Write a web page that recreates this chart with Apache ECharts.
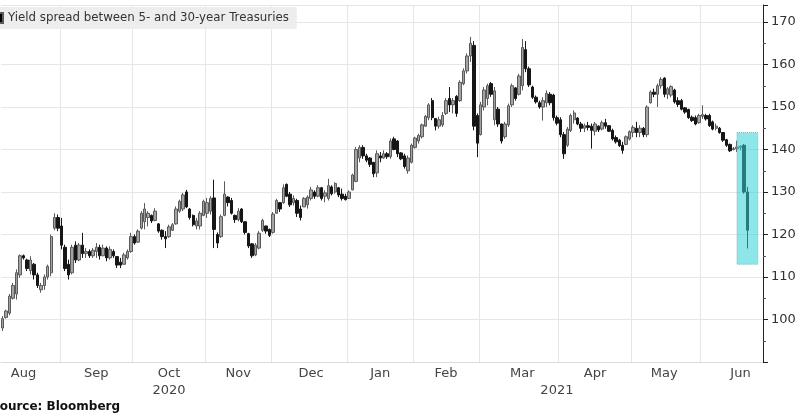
<!DOCTYPE html>
<html>
<head>
<meta charset="utf-8">
<script src="https://cdn.jsdelivr.net/npm/echarts@6/dist/echarts.min.js"></script>
<style>
html,body{margin:0;padding:0;background:#fff;}
#chart{width:800px;height:419px;}
</style>
</head>
<body>
<div id="chart"></div>
<script>
// ---- data ----
var seriesName = 'Yield spread between 5- and 30-year Treasuries';
var sourceText = 'Source: Bloomberg';
var firstDate = '2020-08-07';
var lastDate = '2021-06-24';
var holidays = ['2020-09-07','2020-10-12','2020-11-11','2020-11-26','2020-12-25',
                '2021-01-01','2021-01-18','2021-02-15','2021-04-02','2021-05-31'];

var openVals = [
98,100.5,101.5,105,106,110.5,115,114,111.5,113,110.5,107,108,110,111,121.5,124,122,117,113,
111,117.5,114,117.5,115.5,116,115,116,117,115,116.8,114.5,116,114.8,113.5,113,114.5,116,119.5,118.2,
121.5,123,124,124.5,123.3,122.5,121,119.5,119.5,121,122.5,125.5,126,130,126,124.5,122,122,124.5,125,
125.5,128.6,120,119.5,124.5,128.8,128,124.5,123.5,126,123,120.2,117.8,115.2,116.8,121,122,121.2,120.5,125,
127.5,127.5,131.8,129.5,127.5,128,126,126.5,127,128.5,130,129,131,129,128.5,131.2,130,131,129.5,129,
128.5,130.5,132.5,138,140.5,138.5,138,137,134.5,138.5,138,139,138.3,142.5,142,139.2,138.5,135,137,140.5,
142,143,145.5,147.5,151.5,147.3,145.5,145.8,148.5,152,150.5,152.5,151.5,155.5,158.5,162,164.5,148,143.5,150,
152,155.5,147,149.5,146,143,145.8,150.5,154.5,153,155,163.5,159,154.7,152.3,151,150,151,153,152.8,
147.5,147,143.5,141,144.5,147,147.4,146,145,145.6,145.5,144.3,145.5,144.8,146.3,145.6,144.5,142.8,142.2,141,
141.2,142.5,144,145,144,145,143.5,151,153.5,153,155,156.8,153,152.8,154,151.5,151.5,149.8,149.4,147.6,
147.5,146.3,147.8,148,148,146.5,145,145,144,142.3,141.2,140,140.2,140.5,141,130
];
var closeVals = [
100.2,102,105.5,108,111,115,114.5,112,114,110.5,108,108,110,112.5,119.5,124,121.5,117.5,112,110.5,
117,114,117.5,115.5,116,115,116.3,117,115,116.8,114.5,116.5,115,112.8,112.8,115.2,116,119.5,118,120.8,
125,126,125,123.2,125.5,120.8,119.5,119,121.8,122.3,126,127.8,129.3,126.5,124,122.3,123.2,125,127.8,127.5,
128.5,121.2,118,124.2,129.5,127.5,125,123.5,125.5,123,120.5,117.3,115,117.5,120.3,123.3,120.8,119.8,124.8,128,
126,131,129,127,128.5,125,124,128.5,128.8,130.5,129,131,128.5,129.8,131.5,129.6,132,129.3,128.5,128.2,
130,134,140,140.5,138.5,137.5,136.5,134.3,139,138,139,138.3,142,140,139,137.8,136,138,141,142.7,
143.3,145.8,147.8,150.5,147.5,145.5,147,148,151.5,150.5,151.5,148.5,155.8,158.5,162,165,145.5,141.5,150.5,154,
155,153,153.8,146,142,146,150.3,155,152,157.3,164,159,155.2,152.3,151.2,150,151.5,153.2,151,147.5,
146.2,143.5,139,144.8,148,148.6,146,145,145.6,145.2,144.5,146,144.6,146.3,145.5,144.3,142.5,141.8,140.9,139.8,
143,144.2,145.2,144,145,143.5,150,153.5,153,155,156.5,153,154.3,154.8,151.2,150.6,149.5,148.8,147.5,146.8,
146,148,148.2,147.2,145.6,144.8,145.5,144,142.2,141,139.7,140.2,140.6,140.8,130,121
];
var lowVals = [
97.3,100.2,101,104.7,104.7,109.8,114.1,111.4,110.6,109.4,107.4,106.3,107,109.4,110.2,121,120.8,116.5,111.4,109.4,
110.6,113.3,113.7,114.5,114.5,114.5,114.5,114.5,114.1,114.9,113.7,114.1,114.5,112.1,112.1,112.9,114.1,115.7,117.6,118,
121.2,121.2,121.9,122.7,123.1,120.4,118.8,116.8,119.2,120.8,122.3,125.1,125.5,126.2,123.5,121.9,121.2,121.2,124.3,123.9,
124.7,116.8,116.8,119.2,124.3,126.6,124.7,122.7,123.1,122.7,120,116.8,114.5,114.9,116.5,120.6,120.2,119.4,120.2,124.9,
125.3,127.2,128.8,126.5,126.8,124.1,123.3,126.5,126.1,128,128.4,128.8,128,127.6,128,129.2,129.6,128.8,128,128,
128.4,130.4,132.3,137,137.8,137,135.9,133.5,133.5,137,137.8,137.8,137.8,139.8,138.2,137.5,135.5,134.3,136.7,140.2,
141.4,142.6,145.3,146.9,146.9,144.5,144.9,145.3,148.1,148.8,148.5,147.7,151.2,155.1,157.9,160.6,144.5,138.2,143.3,149.2,
150.4,152.4,145.7,145.3,141.4,142.5,145.3,150,151.5,152.7,153.9,158.2,154.7,151.9,150.8,149.6,146.8,150,150.4,146.8,
145.7,142.9,137.8,140.6,144.1,146.1,145.7,144.1,144.1,144.5,140.2,143.3,144.1,144.5,144.9,144.1,142.1,141.4,140.6,139,
141,142.1,142.9,142.9,142.9,142.9,142.9,150.8,152.3,150,154.3,152.3,151.9,152.3,150.8,150,149.2,148.4,147.2,146.5,
145.7,146.1,147.2,146.8,145.3,144.5,144.5,143.7,141.8,140.6,139.4,139.8,139.4,139.8,129.6,116.7
];
var highVals = [
100.8,102.3,106,108.6,111.8,115.3,115.3,114.3,114.9,113.3,111,108.6,110.6,112.9,120,125,124.7,123.9,117.6,114.1,
117.6,118.4,118,120.4,116.8,116.5,116.8,118,117.6,117.6,117.2,117.2,116.5,114.9,114.5,115.7,116.5,120.4,120,121.2,
125.5,127.4,125.5,124.7,126.2,122.7,121.2,120.8,122.3,122.7,126.6,128.2,129.8,130.5,126.2,124.7,123.9,125.5,128.2,128.6,
129,132.9,120.5,124.7,132.5,129,128.6,124.7,126.2,126.2,123.1,120.4,118,118,120.8,123.7,122.1,121.4,125.3,128.4,
127.6,131.8,132,130,129.2,128.4,126.8,128.8,129.2,131.2,130.4,131.6,131.2,130.4,133.1,131.6,132.3,131.2,130.8,129.6,
130.4,134.3,140.6,141,141,139,138.2,137,139.8,139.4,139.8,139.4,142.6,143,142.2,139.4,139,138.6,141.4,143,
143.7,146.1,148.1,150.9,152.1,147.3,147.7,148.8,152.1,154.7,152.1,152.8,156.3,159.1,162.6,166.5,165.5,148.5,151.2,154.7,
155.5,155.9,154.7,150,146.1,146.5,150.8,155.5,154.7,157.8,166,165.5,159.5,155,152.7,151.5,152.3,153.9,153.5,153.1,
148,147.6,144.1,145.3,148.4,149.2,147.6,146.5,146.1,146.5,146.1,146.5,145.7,146.8,147.2,145.7,144.9,143.3,142.5,141.8,
143.3,144.5,145.7,146.5,145.7,145.3,150.4,153.9,154.3,155.5,157,157,154.7,155.1,154.3,152.3,151.9,150,149.6,148,
148,148.4,150.4,148.4,148.4,146.8,146.1,145.3,144.1,142.5,141.4,140.6,142.1,141,141.3,131.2
];

// axis tick labels
var monthTickDates = ['2020-08-17','2020-09-16','2020-10-16','2020-11-16','2020-12-16','2021-01-15',
                      '2021-02-12','2021-03-17','2021-04-16','2021-05-14','2021-06-16'];
var monthTickLabels = ['Aug','Sep','Oct','Nov','Dec','Jan','Feb','Mar','Apr','May','Jun'];
var yearTickDates = ['2020-10-16','2021-03-31'];
var yearTickLabels = ['2020','2021'];
var highlightDates = ['2021-06-15','2021-06-23'];
var highlightValues = [144, 113];

// ---- build trading-day categories ----
function fmt(d){
  var m = d.getUTCMonth()+1, dd = d.getUTCDate();
  return d.getUTCFullYear()+'-'+(m<10?'0':'')+m+'-'+(dd<10?'0':'')+dd;
}
var categories = [];
(function(){
  var p = firstDate.split('-'), q = lastDate.split('-');
  var d = new Date(Date.UTC(+p[0], +p[1]-1, +p[2]));
  var end = new Date(Date.UTC(+q[0], +q[1]-1, +q[2]));
  while (d <= end) {
    var wd = d.getUTCDay();
    var s = fmt(d);
    if (wd !== 0 && wd !== 6 && holidays.indexOf(s) < 0) categories.push(s);
    d = new Date(d.getTime() + 86400000);
  }
})();

var candleData = categories.map(function(c, i){
  if (i >= openVals.length) return '-';
  return [openVals[i], closeVals[i], lowVals[i], highVals[i]];
});

var font = 'DejaVu Sans';

var chart = echarts.init(document.getElementById('chart'), null, {renderer:'canvas'});
chart.setOption({
  animation: false,
  backgroundColor: '#ffffff',
  title: {
    text: sourceText,
    left: -9, top: 401,
    padding: 0,
    textStyle: {fontFamily: font, fontSize: 12, fontWeight: 'bold', color: '#111'}
  },
  legend: {
    data: [{name: seriesName, icon: 'rect', itemStyle: {color: '#000'}}],
    left: -15, top: 7,
    padding: [5, 8, 5, 7],
    backgroundColor: '#ededed',
    itemWidth: 10, itemHeight: 10, itemGap: 5,
    selectedMode: false,
    textStyle: {fontFamily: font, fontSize: 11.8, color: '#333'}
  },
  grid: {left: 1, right: 37, top: 5, bottom: 57, containLabel: false},
  xAxis: [{
    type: 'category',
    data: categories,
    boundaryGap: true,
    axisLine: {show: true, lineStyle: {color: '#dcdcdc'}},
    axisTick: {show: false},
    splitLine: {
      show: true,
      interval: function(idx, val){
        return idx > 0 && categories[idx].slice(0,7) !== categories[idx-1].slice(0,7);
      },
      lineStyle: {color: '#e6e6e6', width: 1}
    },
    axisLabel: {
      interval: function(idx, val){ return monthTickDates.indexOf(val) >= 0; },
      formatter: function(val){ return monthTickLabels[monthTickDates.indexOf(val)]; },
      margin: 5,
      fontFamily: font, fontSize: 13, color: '#444'
    }
  }, {
    type: 'category',
    data: categories,
    position: 'bottom',
    offset: 17,
    boundaryGap: true,
    axisLine: {show: false},
    axisTick: {show: false},
    splitLine: {show: false},
    axisLabel: {
      interval: function(idx, val){ return yearTickDates.indexOf(val) >= 0; },
      formatter: function(val){ return yearTickLabels[yearTickDates.indexOf(val)]; },
      margin: 5,
      fontFamily: font, fontSize: 13, color: '#444'
    }
  }],
  yAxis: {
    type: 'value',
    position: 'right',
    min: 90, max: 174, interval: 10,
    scale: true,
    axisLine: {show: true, lineStyle: {color: '#222', width: 1}},
    axisTick: {show: true, length: 5, lineStyle: {color: '#222'}},
    minorTick: {show: true, splitNumber: 2, length: 3, lineStyle: {color: '#555'}},
    splitLine: {show: true, lineStyle: {color: '#e6e6e6', width: 1}},
    axisLabel: {
      showMinLabel: false, showMaxLabel: false,
      margin: 8,
      fontFamily: font, fontSize: 13, color: '#333'
    }
  },
  series: [{
    name: seriesName,
    type: 'candlestick',
    xAxisIndex: 0,
    data: candleData,
    barWidth: '85%',
    itemStyle: {
      color: '#a3a3a3', borderColor: '#5a5a5a',
      color0: '#161616', borderColor0: '#161616',
      borderWidth: 1
    }
  }, {
    name: 'highlight',
    type: 'line',
    xAxisIndex: 0,
    data: [],
    z: 5,
    silent: true,
    markArea: {
      silent: true,
      z: 10,
      itemStyle: {color: 'rgba(51,210,213,0.55)', borderColor: '#5cc6c8', borderWidth: 1, borderType: 'dotted'},
      data: [[{xAxis: highlightDates[0], yAxis: highlightValues[0]}, {xAxis: highlightDates[1], yAxis: highlightValues[1]}]]
    }
  }]
});
</script>
</body>
</html>
